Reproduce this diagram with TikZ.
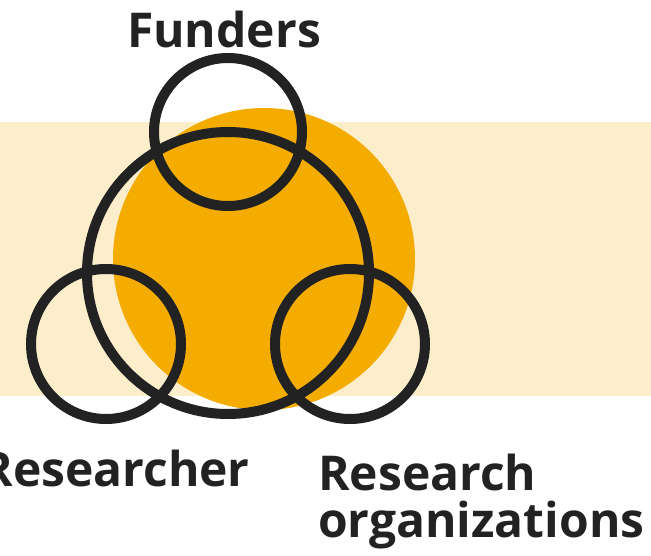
\documentclass[tikz,border=0pt]{standalone}
\usepackage{fontspec}
\setmainfont{Open Sans}
\definecolor{band}{HTML}{FCEDCB}
\definecolor{sun}{HTML}{F5AC00}
\definecolor{ink}{HTML}{222222}
\begin{document}
\begin{tikzpicture}[x=1pt,y=-1pt,
  ring/.style={draw=ink,line width=10pt},
  lbl/.style={text=ink,font=\fontsize{48}{47}\selectfont\bfseries,inner sep=0pt}]
\useasboundingbox (0,0) rectangle (651,556);
\fill[band] (0,122) rectangle (651,396);
\fill[sun] (264,259) circle[radius=151];
\draw[ring] (228,273) circle[radius=141];
\draw[ring] (228,132) circle[radius=74];
\draw[ring] (106,344) circle[radius=75];
\draw[ring] (350,344) circle[radius=75];
\node[lbl,anchor=base] (funders) at (224,48) {Funders};
\node[lbl,anchor=base east] (researcher) at (250,486) {Researcher};
\node[lbl,anchor=base west,align=left] (org) at (318,537) {Research\\organizations};
\end{tikzpicture}
\end{document}
